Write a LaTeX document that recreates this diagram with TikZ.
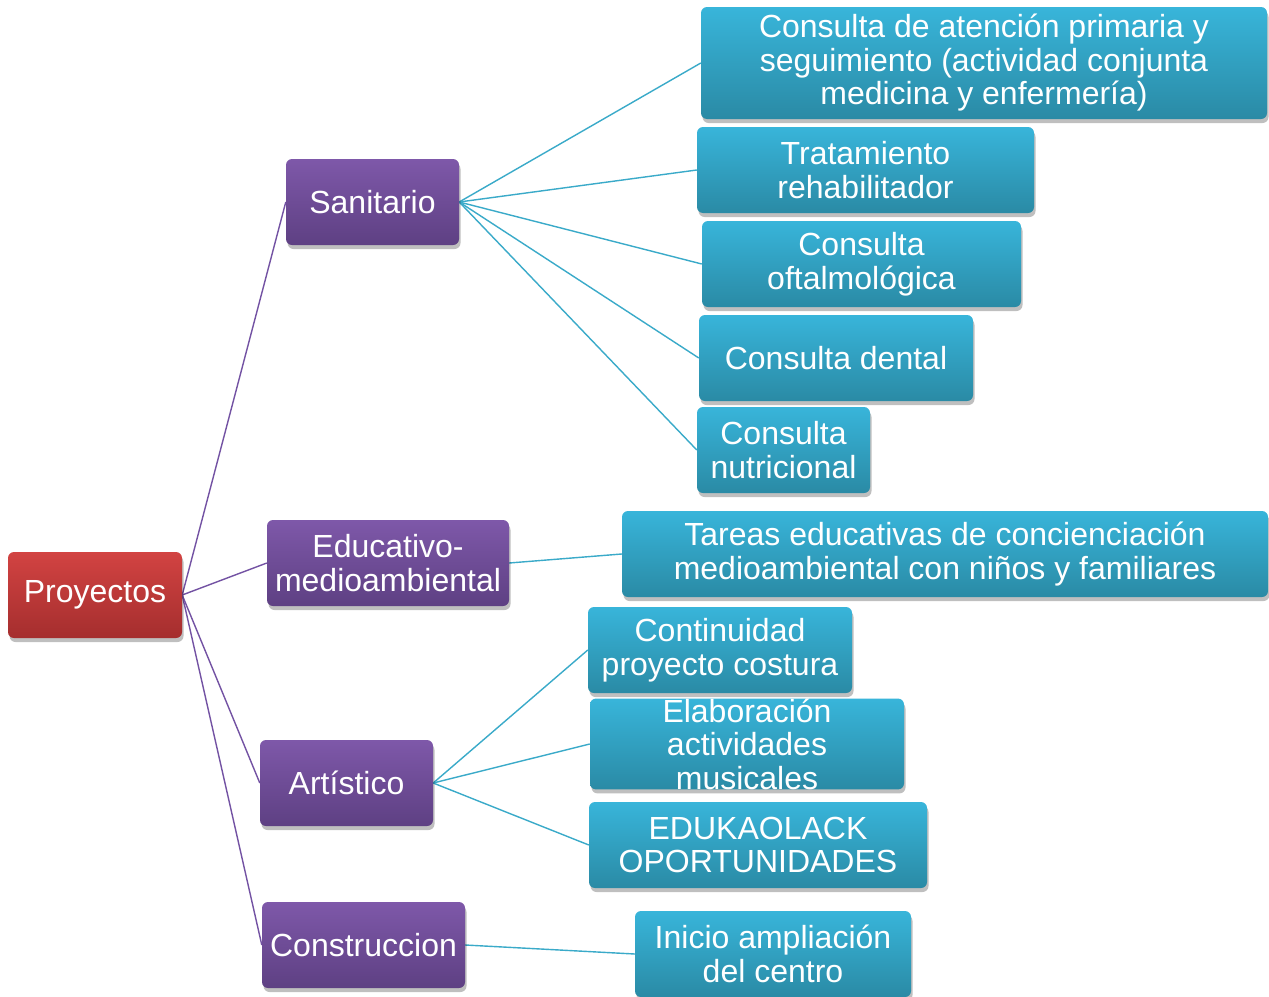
\documentclass[tikz,border=0pt]{standalone}
\usepackage{fontspec}
\setmainfont{Liberation Sans}
\usetikzlibrary{shadows,backgrounds}
\definecolor{redtop}{HTML}{D24342}
\definecolor{redbot}{HTML}{A52E2E}
\definecolor{purtop}{HTML}{7E58A9}
\definecolor{purbot}{HTML}{5E4083}
\definecolor{blutop}{HTML}{38B5DA}
\definecolor{blubot}{HTML}{2A8AA5}
\definecolor{purline}{HTML}{7352A3}
\definecolor{bluline}{HTML}{3AAAC9}
\tikzset{
  box/.style={rounded corners=6pt, text=white, align=center, inner sep=0pt,
    font=\fontsize{32}{33.5}\selectfont,
    drop shadow={shadow xshift=1.5pt, shadow yshift=-4pt, opacity=0.25, fill=black}},
  rootbox/.style={box, top color=redtop, bottom color=redbot},
  midbox/.style={box, top color=purtop, bottom color=purbot},
  leafbox/.style={box, top color=blutop, bottom color=blubot},
  pline/.style={draw=purline, line width=1.4pt},
  bline/.style={draw=bluline, line width=1.4pt},
}
\begin{document}
\begin{tikzpicture}[x=1pt,y=1pt]
\useasboundingbox (0,0) rectangle (1269,-996);
% root
\node[rootbox, minimum width=174, minimum height=86] (p) at (95,-595) {Proyectos};
% level 1
\node[midbox, minimum width=173, minimum height=86] (san) at (372.5,-202) {Sanitario};
\node[midbox, minimum width=242, minimum height=86] (edu) at (388,-563) {Educativo-\\medioambiental};
\node[midbox, minimum width=173, minimum height=86] (art) at (346.5,-783) {Artístico};
\node[midbox, minimum width=203, minimum height=86] (con) at (363.5,-945) {Construccion};
% level 2
\node[leafbox, minimum width=566, minimum height=112] (c1) at (984,-63) {Consulta de atención primaria y\\seguimiento (actividad conjunta\\medicina y enfermería)};
\node[leafbox, minimum width=337, minimum height=86] (c2) at (865.5,-170) {Tratamiento\\rehabilitador};
\node[leafbox, minimum width=319, minimum height=86] (c3) at (861.5,-264) {Consulta\\oftalmológica};
\node[leafbox, minimum width=274, minimum height=86] (c4) at (836,-358) {Consulta dental};
\node[leafbox, minimum width=173, minimum height=86] (c5) at (783.5,-450) {Consulta\\nutricional};
\node[leafbox, minimum width=646, minimum height=86] (t1) at (945,-554) {Tareas educativas de concienciación\\medioambiental con niños y familiares};
\node[leafbox, minimum width=264, minimum height=86] (a1) at (720,-650) {Continuidad\\proyecto costura};
\node[leafbox, minimum width=314, minimum height=86] (a2) at (747,-744) {Elaboración\\actividades\\musicales};
\node[leafbox, minimum width=338, minimum height=86] (a3) at (758,-845) {EDUKAOLACK\\OPORTUNIDADES};
\node[leafbox, minimum width=276, minimum height=86] (i1) at (773,-954) {Inicio ampliación\\del centro};
\begin{scope}[on background layer]
\fill[white] (0,0) rectangle (1269,-996);
\draw[pline] (p.east) -- (san.west);
\draw[pline] (p.east) -- (edu.west);
\draw[pline] (p.east) -- (art.west);
\draw[pline] (p.east) -- (con.west);
\foreach \n in {c1,c2,c3,c4,c5} \draw[bline] (san.east) -- (\n.west);
\draw[bline] (edu.east) -- (t1.west);
\foreach \n in {a1,a2,a3} \draw[bline] (art.east) -- (\n.west);
\draw[bline] (con.east) -- (i1.west);
\end{scope}
\end{tikzpicture}
\end{document}
